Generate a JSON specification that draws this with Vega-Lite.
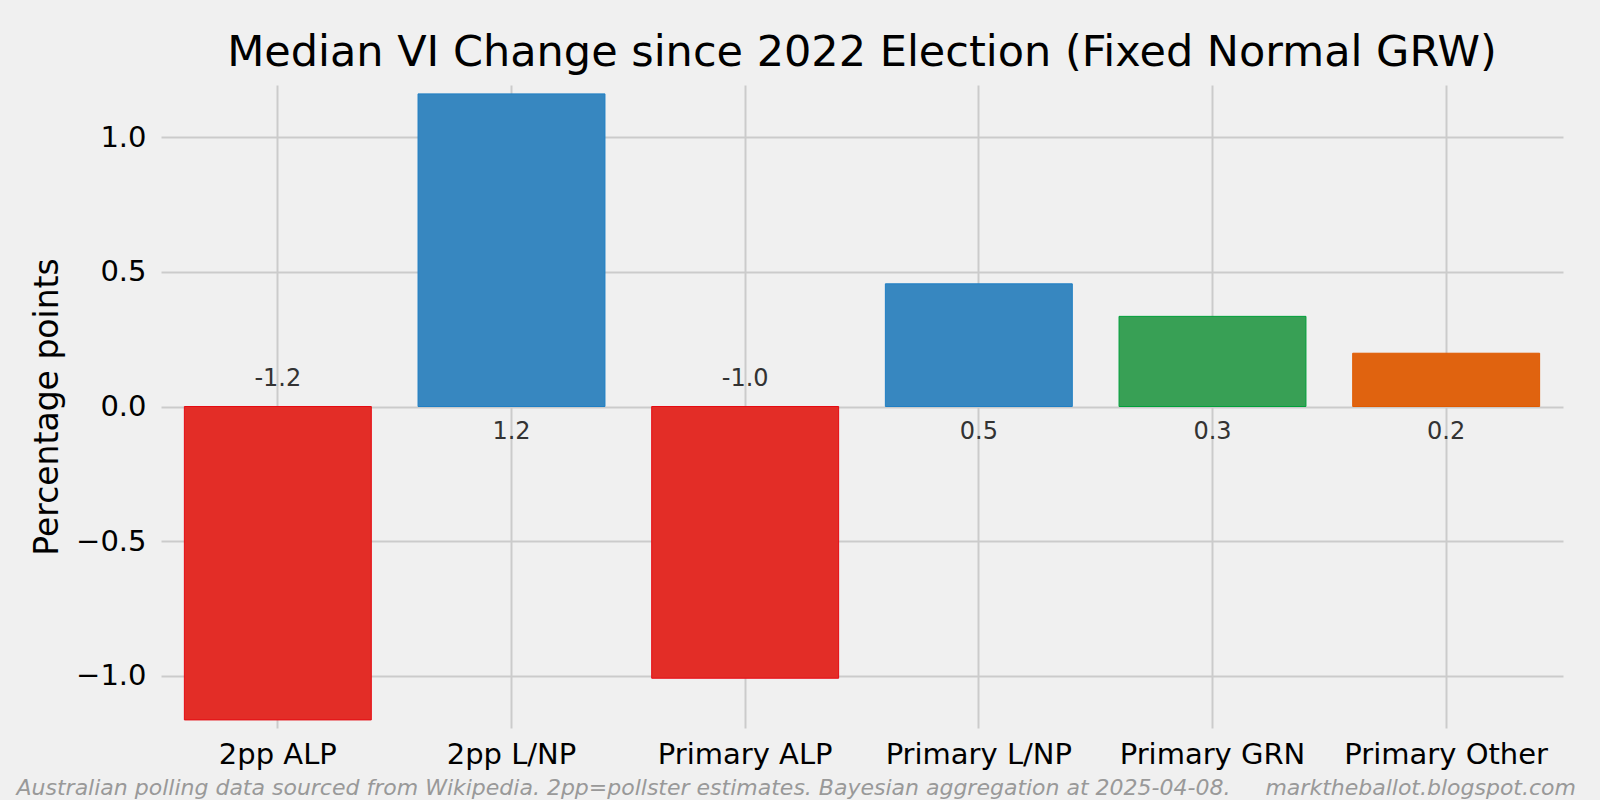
{
  "$schema": "https://vega.github.io/schema/vega-lite/v6.json",
  "width": 1402,
  "height": 643,
  "autosize": {"type": "none"},
  "padding": {"left": 161, "top": 85, "right": 37, "bottom": 72},
  "background": "#f0f0f0",
  "title": {
    "text": "Median VI Change since 2022 Election (Fixed Normal GRW)",
    "font": "DejaVu Sans",
    "fontSize": 43,
    "fontWeight": "normal",
    "color": "#000000",
    "frame": "group",
    "anchor": "middle",
    "baseline": "alphabetic",
    "offset": 18,
    "dy": 42
  },
  "data": {
    "values": [
      {"series": "2pp ALP", "change": -1.165},
      {"series": "2pp L/NP", "change": 1.162},
      {"series": "Primary ALP", "change": -1.01},
      {"series": "Primary L/NP", "change": 0.456},
      {"series": "Primary GRN", "change": 0.335},
      {"series": "Primary Other", "change": 0.198}
    ]
  },
  "transform": [
    {"calculate": "replace(format(datum.change, '.1f'), '\u2212', '-')", "as": "label"}
  ],
  "encoding": {
    "x": {
      "field": "series",
      "type": "nominal",
      "sort": null,
      "scale": {"paddingInner": 0.2, "paddingOuter": 0.1},
      "axis": {
        "labelAngle": 0,
        "labelFont": "DejaVu Sans",
        "labelFontSize": 29,
        "labelColor": "#000000",
        "labelPadding": 12,
        "labelLimit": 0,
        "tickSize": 0,
        "domain": false,
        "grid": true,
        "bandPosition": 0.5,
        "gridColor": "#cbcbcb",
        "gridWidth": 2,
        "title": "Australian polling data sourced from Wikipedia. 2pp=pollster estimates. Bayesian aggregation at 2025-04-08.\u00a0\u00a0\u00a0\u00a0\u00a0marktheballot.blogspot.com",
        "titleFont": "DejaVu Sans",
        "titleFontSize": 22,
        "titleFontStyle": "italic",
        "titleFontWeight": "normal",
        "titleColor": "#999999",
        "titleAlign": "left",
        "titleAnchor": "start",
        "titleBaseline": "alphabetic",
        "titleLimit": 0,
        "titleX": -145,
        "titleY": 66
      }
    }
  },
  "layer": [
    {
      "mark": {"type": "bar", "strokeWidth": 1},
      "encoding": {
        "y": {
          "field": "change",
          "type": "quantitative",
          "scale": {"domain": [-1.195, 1.195], "nice": false, "zero": false},
          "axis": {
            "values": [-1, -0.5, 0, 0.5, 1],
            "format": ".1f",
            "labelFont": "DejaVu Sans",
            "labelFontSize": 29,
            "labelColor": "#000000",
            "labelPadding": 15,
            "tickSize": 0,
            "domain": false,
            "grid": true,
            "gridColor": "#cbcbcb",
            "gridWidth": 2,
            "title": "Percentage points",
            "titleFont": "DejaVu Sans",
            "titleFontSize": 33,
            "titleFontWeight": "normal",
            "titleColor": "#000000",
            "titleAngle": -90,
            "titleAlign": "center",
            "titleBaseline": "alphabetic",
            "titleX": -104,
            "titleY": 321.5
          }
        },
        "color": {
          "field": "series",
          "type": "nominal",
          "scale": {
            "domain": ["2pp ALP", "2pp L/NP", "Primary ALP", "Primary L/NP", "Primary GRN", "Primary Other"],
            "range": ["#e32d27", "#3787c0", "#e32d27", "#3787c0", "#38a055", "#e0630f"]
          },
          "legend": null
        },
        "stroke": {
          "field": "series",
          "type": "nominal",
          "scale": {
            "domain": ["2pp ALP", "2pp L/NP", "Primary ALP", "Primary L/NP", "Primary GRN", "Primary Other"],
            "range": ["#e60a12", "#1f7fc4", "#e60a12", "#1f7fc4", "#00a03a", "#e05a00"]
          },
          "legend": null
        }
      }
    },
    {
      "transform": [{"filter": "datum.change < 0"}],
      "mark": {"type": "text", "font": "DejaVu Sans", "fontSize": 24, "color": "#333333", "baseline": "middle", "dy": -28},
      "encoding": {
        "y": {"datum": 0, "type": "quantitative"},
        "text": {"field": "label"}
      }
    },
    {
      "transform": [{"filter": "datum.change >= 0"}],
      "mark": {"type": "text", "font": "DejaVu Sans", "fontSize": 24, "color": "#333333", "baseline": "middle", "dy": 25},
      "encoding": {
        "y": {"datum": 0, "type": "quantitative"},
        "text": {"field": "label"}
      }
    }
  ],
  "config": {"view": {"stroke": null}}
}
